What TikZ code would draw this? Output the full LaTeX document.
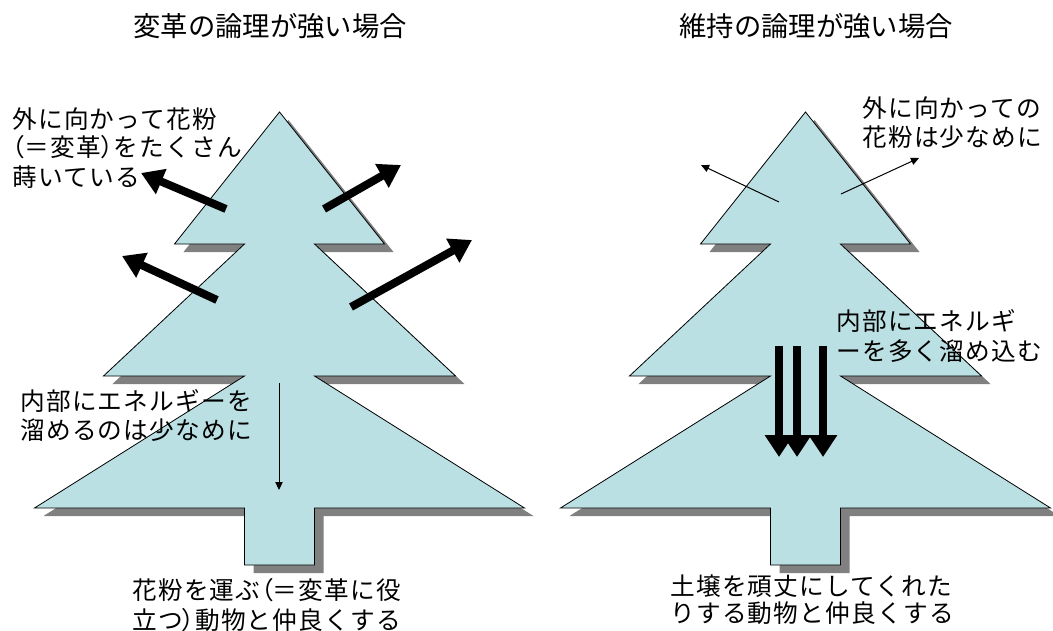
\documentclass[tikz,border=0pt]{standalone}
\usepackage{fontspec}
\usetikzlibrary{arrows.meta}
\newfontfamily\jpfont[LetterSpace=5]{Noto Sans CJK JP}
\newfontfamily\jphead{Noto Sans CJK JP}
\newfontfamily\jpprop[RawFeature=+palt]{Noto Sans CJK JP}
\newcommand{\lpar}{{\jpprop （}}
\newcommand{\rpar}{{\jpprop ）}}
\definecolor{treefill}{RGB}{187,224,227}
\definecolor{treeshadow}{RGB}{128,128,128}
\tikzset{
  label/.style={font={\jpfont\fontsize{18.5}{21.75}\selectfont}, align=left, anchor=base west, inner sep=0pt},
  heading/.style={font={\jphead\fontsize{20.5}{22}\selectfont}, inner sep=0pt},
  bigarrow/.style={line width=6pt, -{Triangle[length=16.5pt, width=19.5pt]}},
  fatarrow/.style={line width=6.4pt, -{Triangle[length=16.5pt, width=20.5pt]}},
  thinarrow/.style={line width=0.75pt, -{Triangle[length=6pt, width=5.5pt]}},
  pics/fir/.style={code={
    \def\firpath{(0,0) -- (105,132) -- (35,132) -- (176,264) -- (35,264) -- (245,396)
      -- (35,396) -- (35,453) -- (-35,453) -- (-35,396) -- (-245,396) -- (-35,264)
      -- (-176,264) -- (-35,132) -- (-105,132) -- cycle}
    \fill[treeshadow, shift={(9,8)}] \firpath;
    \filldraw[fill=treefill, draw=black, line width=0.6pt, line join=miter] \firpath;
  }}
}
\begin{document}
\begin{tikzpicture}[x=0.75pt, y=-0.75pt]
\useasboundingbox[fill=white] (0,0) rectangle (1053,631);

% headings
\node[heading] (hleft) at (270,26.5) {変革の論理が強い場合};
\node[heading] (hright) at (816,26.5) {維持の論理が強い場合};

% the two trees
\pic at (279.5,112) {fir};
\pic at (805.5,112) {fir};

% left tree: pollen thrown outward
\coordinate (a1s) at (226,209); \coordinate (a1e) at (141,173);
\coordinate (a2s) at (324,209); \coordinate (a2e) at (401,165);
\coordinate (a3s) at (217,300); \coordinate (a3e) at (122,256);
\coordinate (a4s) at (351,307); \coordinate (a4e) at (472,240);
\draw[bigarrow] (a1s) -- (a1e);
\draw[bigarrow] (a2s) -- (a2e);
\draw[bigarrow] (a3s) -- (a3e);
\draw[bigarrow] (a4s) -- (a4e);

% left tree: little stored inside
\coordinate (l5s) at (279,383); \coordinate (l5e) at (279,490);
\draw[thinarrow] (l5s) -- (l5e);

% right tree: little pollen outward
\coordinate (r1s) at (779,202); \coordinate (r1e) at (701,165);
\coordinate (r2s) at (841,194); \coordinate (r2e) at (919,158);
\draw[thinarrow] (r1s) -- (r1e);
\draw[thinarrow] (r2s) -- (r2e);

% right tree: much stored inside
\coordinate (d1s) at (779,346); \coordinate (d1e) at (779,457);
\coordinate (d2s) at (797,346); \coordinate (d2e) at (797,457);
\coordinate (d3s) at (823,346); \coordinate (d3e) at (823,457);
\draw[fatarrow] (d1s) -- (d1e);
\draw[fatarrow] (d2s) -- (d2e);
\draw[fatarrow] (d3s) -- (d3e);

% labels (anchored at the baseline of their last line)
\node[label] (t1) at (12,186) {外に向かって花粉\\\lpar＝変革\rpar をたくさん\\蒔いている};
\node[label] (t2) at (20,439) {内部にエネルギーを\\溜めるのは少なめに};
\node[label, font={\jpfont\fontsize{18.5}{22.5}\selectfont}] (t3) at (132,629) {花粉を運ぶ\lpar＝変革に役\\立つ\rpar 動物と仲良くする};
\node[label] (t4) at (862,147) {外に向かっての\\花粉は少なめに};
\node[label, font={\jpfont\fontsize{18.5}{22.5}\selectfont}] (t5) at (836,360) {内部にエネルギ\\ーを多く溜め込む};
\node[label, font={\jpfont\fontsize{18.5}{20.25}\selectfont}] (t6) at (670,622) {土壌を頑丈にしてくれた\\りする動物と仲良くする};
\end{tikzpicture}
\end{document}
